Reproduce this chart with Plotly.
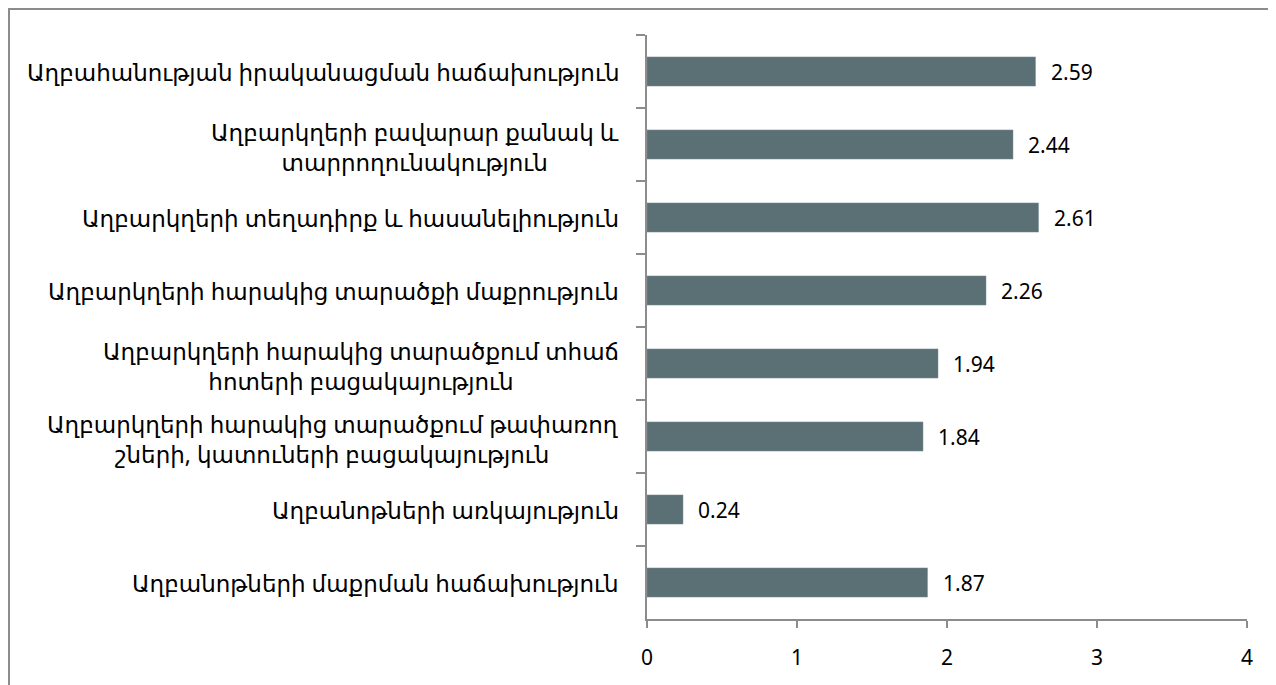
import plotly.graph_objects as go

categories = [
    "Աղբահանության իրականացման հաճախություն",
    "Աղբարկղերի բավարար քանակ և<br>տարրողունակություն",
    "Աղբարկղերի տեղադիրք և հասանելիություն",
    "Աղբարկղերի հարակից տարածքի մաքրություն",
    "Աղբարկղերի հարակից տարածքում տհաճ<br>հոտերի բացակայություն",
    "Աղբարկղերի հարակից տարածքում թափառող<br>շների, կատուների բացակայություն",
    "Աղբանոթների առկայություն",
    "Աղբանոթների մաքրման հաճախություն",
]
values = [2.59, 2.44, 2.61, 2.26, 1.94, 1.84, 0.24, 1.87]
x_ticks = [0, 1, 2, 3, 4]

BAR = "#5b7075"
AXIS = "#8c8c8c"
FONT = "Noto Sans, DejaVu Sans, sans-serif"

W, H = 1268, 677
L, R, T, B = 639, 29, 27, 66
PW, PH = W - L - R, H - T - B

fig = go.Figure()
fig.add_trace(go.Bar(
    y=categories, x=values, orientation="h",
    marker=dict(color=BAR, line=dict(color="#7f9094", width=0.5)),
    width=0.40, hoverinfo="x+y",
))

annotations = []
for c, v in zip(categories, values):
    annotations.append(dict(
        x=0, xref="paper", y=c, yref="y", text=c, showarrow=False,
        xanchor="right", yanchor="middle", align="center", xshift=-26,
        yshift=-2 if "<br>" in c else 0,
        font=dict(family=FONT, size=23, color="#000000"),
    ))
    annotations.append(dict(
        x=v, xref="x", y=c, yref="y", text=f"{v:.2f}", showarrow=False,
        xanchor="left", yanchor="middle", xshift=13,
        font=dict(family=FONT, size=21, color="#000000"),
    ))

fig.update_layout(
    width=W, height=H,
    margin=dict(l=L, r=R, t=T, b=B),
    paper_bgcolor="white", plot_bgcolor="white",
    showlegend=False,
    bargap=0.6,
    annotations=annotations,
    shapes=[dict(
        type="rect", xref="paper", yref="paper",
        x0=(1 - L) / PW, x1=(W + 30 - L) / PW,
        y0=(T + PH - (H + 30)) / PH, y1=(T + PH - 1) / PH,
        line=dict(color="#8c8c8c", width=2), fillcolor="rgba(0,0,0,0)",
        layer="below",
    )],
)
fig.update_xaxes(
    range=[0, 4], tickvals=x_ticks, ticktext=[str(t) for t in x_ticks],
    showgrid=False, zeroline=False,
    showline=True, linecolor=AXIS, linewidth=2,
    ticks="outside", ticklen=7, tickwidth=2, tickcolor=AXIS,
    ticklabelstandoff=12,
    tickfont=dict(family=FONT, size=21, color="#000000"),
)
fig.update_yaxes(
    type="category", autorange="reversed",
    showgrid=False, zeroline=False,
    showline=True, linecolor=AXIS, linewidth=2,
    ticks="outside", ticklen=9, tickwidth=2, tickcolor=AXIS,
    tickson="boundaries", showticklabels=False,
)

fig.write_html("out.html")
